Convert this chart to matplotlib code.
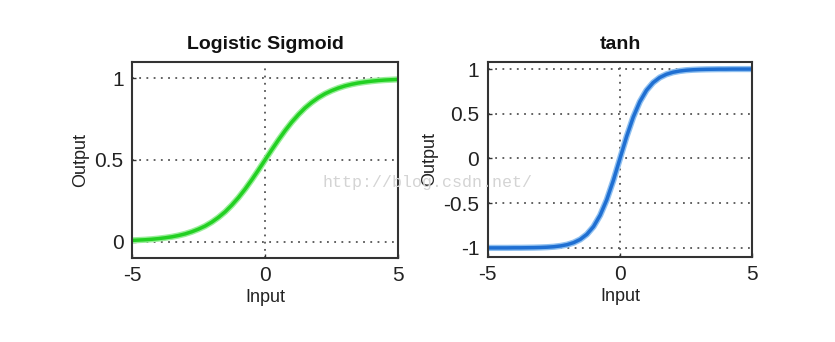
import matplotlib.pyplot as plt

# input samples, -5 to 5 in steps of 0.25
x = [-5.0, -4.75, -4.5, -4.25, -4.0, -3.75, -3.5, -3.25, -3.0, -2.75, -2.5,
     -2.25, -2.0, -1.75, -1.5, -1.25, -1.0, -0.75, -0.5, -0.25, 0.0,
     0.25, 0.5, 0.75, 1.0, 1.25, 1.5, 1.75, 2.0, 2.25, 2.5,
     2.75, 3.0, 3.25, 3.5, 3.75, 4.0, 4.25, 4.5, 4.75, 5.0]

# logistic sigmoid output
sig = [0.007, 0.009, 0.011, 0.014, 0.018, 0.023, 0.029, 0.037, 0.047, 0.060, 0.076,
       0.095, 0.119, 0.148, 0.182, 0.223, 0.269, 0.321, 0.378, 0.438, 0.500,
       0.562, 0.622, 0.679, 0.731, 0.777, 0.818, 0.852, 0.881, 0.905, 0.924,
       0.940, 0.953, 0.963, 0.971, 0.977, 0.982, 0.986, 0.989, 0.991, 0.993]

# tanh output
th = [-1.000, -1.000, -1.000, -1.000, -0.999, -0.999, -0.998, -0.997, -0.995, -0.992, -0.987,
      -0.978, -0.964, -0.941, -0.905, -0.848, -0.762, -0.635, -0.462, -0.245, 0.000,
      0.245, 0.462, 0.635, 0.762, 0.848, 0.905, 0.941, 0.964, 0.978, 0.987,
      0.992, 0.995, 0.997, 0.998, 0.999, 0.999, 1.000, 1.000, 1.000, 1.000]

xticks = [-5, 0, 5]
sig_yticks = [0, 0.5, 1]
sig_ylabels = ['0', '0.5', '1']
th_yticks = [-1, -0.5, 0, 0.5, 1]
th_ylabels = ['-1', '-0.5', '0', '0.5', '1']

plt.rcParams['font.family'] = 'Liberation Sans'

fig = plt.figure(figsize=(8.35, 3.42), dpi=100)
ax1 = fig.add_axes([0.158, 0.246, 0.319, 0.573])
ax2 = fig.add_axes([0.584, 0.249, 0.317, 0.570])


def style(ax, title, yticks, ylabels, ylim):
    ax.set_xlim(-5, 5)
    ax.set_ylim(*ylim)
    ax.set_xticks(xticks)
    ax.set_xticklabels([str(t) for t in xticks])
    ax.set_yticks(yticks)
    ax.set_yticklabels(ylabels)
    ax.tick_params(direction='in', length=3, width=1, labelsize=15,
                   colors='#333333', labelcolor='#222222', pad=6)
    ax.grid(True, color='#555555', linestyle=(0, (1, 3)), linewidth=1.3)
    for s in ax.spines.values():
        s.set_color('#333333')
        s.set_linewidth(1.5)
    ax.set_title(title, fontsize=14, fontweight='bold', color='#111111', pad=9)
    ax.set_xlabel('Input', fontsize=13, color='#222222', labelpad=3)
    ax.set_ylabel('Output', fontsize=13, color='#222222', labelpad=4)


# soft halo under each curve, then the curve itself
ax1.plot(x, sig, color='#99ee99', linewidth=4.5, solid_capstyle='butt')
ax1.plot(x, sig, color='#22d022', linewidth=2.5)
style(ax1, 'Logistic Sigmoid', sig_yticks, sig_ylabels, (-0.1, 1.1))

ax2.plot(x, th, color='#8fc0f0', linewidth=4.5, solid_capstyle='butt')
ax2.plot(x, th, color='#1f6fd2', linewidth=2.5)
style(ax2, 'tanh', th_yticks, th_ylabels, (-1.1, 1.08))

fig.text(0.386, 0.465, 'http://blog.csdn.net/', fontsize=12,
         family='Liberation Mono', color='#d4d4d4', ha='left', va='center')

fig.savefig('out.png', dpi=100)
